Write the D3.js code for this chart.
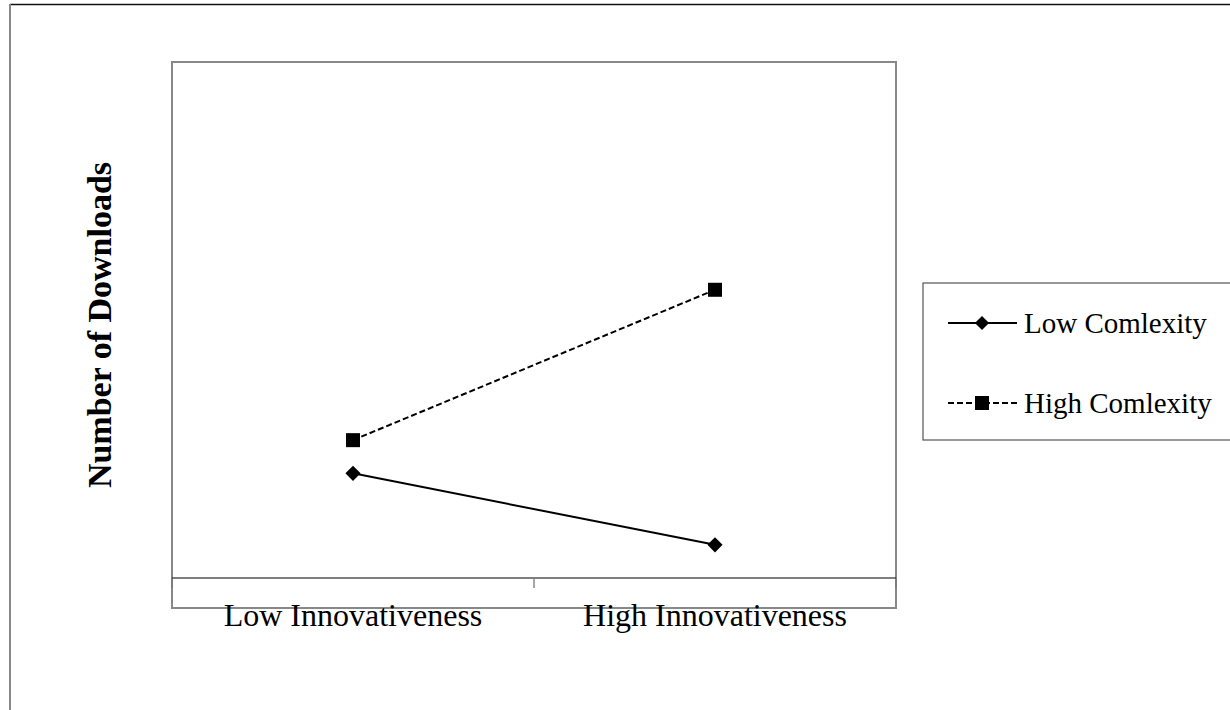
<!DOCTYPE html>
<html>
<head>
<meta charset="utf-8">
<script src="https://cdn.jsdelivr.net/npm/d3@7"></script>
<style>
  body { margin: 0; background: #fff; }
  text { font-family: "Liberation Serif", "Times New Roman", serif; }
</style>
</head>
<body>
<div id="wrapper"></div>
<script>
const categories = ["Low Innovativeness", "High Innovativeness"];
const seriesNames = ["Low Comlexity", "High Comlexity"];
const lowComplexity = [1.42, 0.45];
const highComplexity = [1.87, 3.91];
const yLabel = "Number of Downloads";

function drawChart() {
    const dimensions = {
        width: 1230,
        height: 710,
        plot: { left: 172, top: 62, right: 896, bottom: 608 },
        axisY: 578
    };

    const wrapper = d3.select('#wrapper')
        .append('svg')
        .attr('width', dimensions.width)
        .attr('height', dimensions.height);

    // outer chart frame (top + left visible)
    wrapper.append('line')
        .attr('x1', 10).attr('x2', dimensions.width)
        .attr('y1', 4.5).attr('y2', 4.5)
        .attr('stroke', '#111').attr('stroke-width', 1.5);
    wrapper.append('line')
        .attr('x1', 10).attr('x2', 10)
        .attr('y1', 4).attr('y2', dimensions.height)
        .attr('stroke', '#888').attr('stroke-width', 2);

    // plot area box
    const p = dimensions.plot;
    wrapper.append('rect')
        .attr('x', p.left).attr('y', p.top)
        .attr('width', p.right - p.left).attr('height', p.bottom - p.top)
        .attr('fill', 'none')
        .attr('stroke', '#888').attr('stroke-width', 2);

    const xScale = d3.scaleBand()
        .domain(categories)
        .range([p.left, p.right]);
    const xCenter = d => xScale(d) + xScale.bandwidth() / 2;

    const yScale = d3.scaleLinear()
        .domain([0, 7])
        .range([dimensions.axisY, p.top]);

    // x axis
    const xAxisGenerator = d3.axisBottom(xScale)
        .tickSize(0)
        .tickFormat('');
    const xAxis = wrapper.append('g')
        .attr('transform', `translate(0,${dimensions.axisY})`)
        .call(xAxisGenerator);
    xAxis.select('.domain')
        .attr('stroke', '#000')
        .attr('stroke-width', 1.2)
        .attr('d', `M${p.left},0H${p.right}`);

    const tickPositions = [p.left, ...categories.slice(1).map(c => xScale(c)), p.right];
    xAxis.selectAll('.sep')
        .data(tickPositions)
        .join('line')
        .attr('class', 'sep')
        .attr('x1', d => d).attr('x2', d => d)
        .attr('y1', 0).attr('y2', 10)
        .attr('stroke', '#777').attr('stroke-width', 1.3);

    wrapper.selectAll('.xlab')
        .data(categories)
        .join('text')
        .attr('class', 'xlab')
        .attr('x', d => xCenter(d))
        .attr('y', 626)
        .attr('text-anchor', 'middle')
        .attr('font-size', 32)
        .attr('fill', '#000')
        .text(d => d);

    // y label
    wrapper.append('text')
        .attr('transform', `translate(111,325) rotate(-90)`)
        .attr('text-anchor', 'middle')
        .attr('font-size', 34)
        .attr('font-weight', 'bold')
        .attr('fill', '#000')
        .text(yLabel);

    const lineGenerator = d3.line()
        .x((d, i) => xCenter(categories[i]))
        .y(d => yScale(d));

    // high complexity (dashed, squares)
    wrapper.append('path')
        .attr('d', lineGenerator(highComplexity))
        .attr('fill', 'none')
        .attr('stroke', '#000')
        .attr('stroke-width', 2)
        .attr('stroke-dasharray', '6,3');
    wrapper.selectAll('.sq')
        .data(highComplexity)
        .join('rect')
        .attr('class', 'sq')
        .attr('x', (d, i) => xCenter(categories[i]) - 7)
        .attr('y', d => yScale(d) - 7)
        .attr('width', 14).attr('height', 14)
        .attr('fill', '#000');

    // low complexity (solid, diamonds)
    wrapper.append('path')
        .attr('d', lineGenerator(lowComplexity))
        .attr('fill', 'none')
        .attr('stroke', '#000')
        .attr('stroke-width', 2);
    wrapper.selectAll('.dm')
        .data(lowComplexity)
        .join('path')
        .attr('class', 'dm')
        .attr('transform', (d, i) => `translate(${xCenter(categories[i])},${yScale(d)}) rotate(45)`)
        .attr('d', d3.symbol().type(d3.symbolSquare).size(115))
        .attr('fill', '#000');

    // legend
    const legend = wrapper.append('g');
    legend.append('rect')
        .attr('x', 923).attr('y', 283)
        .attr('width', 330).attr('height', 157)
        .attr('fill', '#fff')
        .attr('stroke', '#555').attr('stroke-width', 1.2);

    const legendY = [323, 403];
    const items = legend.selectAll('.item')
        .data(seriesNames)
        .join('g')
        .attr('class', 'item')
        .attr('transform', (d, i) => `translate(0,${legendY[i]})`);
    items.append('line')
        .attr('x1', 948).attr('x2', 1017)
        .attr('y1', 0).attr('y2', 0)
        .attr('stroke', '#000').attr('stroke-width', 2)
        .attr('stroke-dasharray', (d, i) => i === 1 ? '6,3' : null);
    items.filter((d, i) => i === 0).append('path')
        .attr('transform', 'translate(982,0) rotate(45)')
        .attr('d', d3.symbol().type(d3.symbolSquare).size(100))
        .attr('fill', '#000');
    items.filter((d, i) => i === 1).append('rect')
        .attr('x', 975).attr('y', -7)
        .attr('width', 14).attr('height', 14)
        .attr('fill', '#000');
    items.append('text')
        .attr('x', 1024)
        .attr('y', 0)
        .attr('dy', '0.35em')
        .attr('font-size', 29)
        .attr('fill', '#000')
        .text(d => d);
}

drawChart();
</script>
</body>
</html>
